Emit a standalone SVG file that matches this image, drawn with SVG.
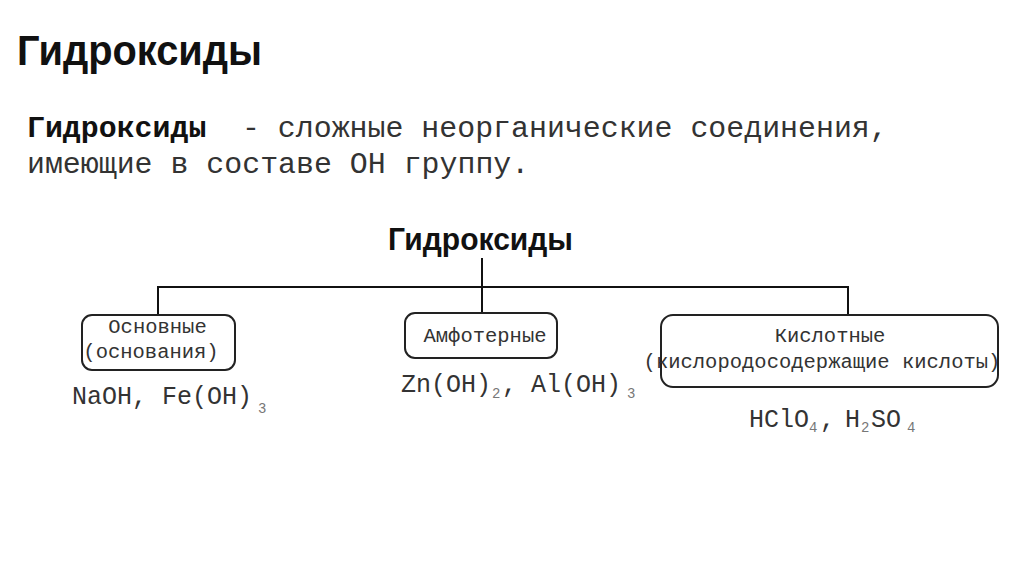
<svg xmlns="http://www.w3.org/2000/svg" width="1024" height="574" viewBox="0 0 1024 574">
<style>
.title{font-family:"Liberation Sans",Arial,sans-serif;font-weight:bold;fill:#111;}
.mono{font-family:"Liberation Mono","Courier New",monospace;fill:#333;}
.box{fill:#fff;stroke:#222;stroke-width:2;}
.lbl{font-family:"Liberation Mono","Courier New",monospace;font-size:20.5px;fill:#333;text-anchor:middle;}
.f{font-family:"Liberation Mono","Courier New",monospace;font-size:25px;fill:#333;}
.sub{font-family:"Liberation Mono","Courier New",monospace;font-size:14px;fill:#777;}
.conn{stroke:#111;stroke-width:2;fill:none;}
</style>
<rect width="1024" height="574" fill="#fff"/>
<text class="title" x="17" y="65" font-size="42" textLength="245" lengthAdjust="spacingAndGlyphs">Гидроксиды</text>
<text class="mono" font-size="29.9" y="137"><tspan x="27" font-weight="bold" fill="#111">Гидроксиды</tspan><tspan x="242">- сложные неорганические соединения,</tspan></text>
<text class="mono" font-size="29.9" x="27" y="173">имеющие в составе ОН группу.</text>
<g id="root"><text class="title" x="388" y="250" font-size="32" textLength="185" lengthAdjust="spacingAndGlyphs">Гидроксиды</text></g>
<g id="connectors">
<line class="conn" x1="482" y1="258" x2="482" y2="313"/>
<polyline class="conn" points="158,315 158,287 848,287 848,315"/>
</g>
<g id="n-basic">
<rect class="box" x="82" y="315" width="153" height="55" rx="10"/>
<text class="lbl" x="157.5" y="333">Основные</text>
<text class="lbl" x="151" y="358">(основания)</text>
<text class="f" x="72" y="404">NaOH, Fe(OH)</text>
<text class="sub" x="258" y="413">3</text>
</g>
<g id="n-amph">
<rect class="box" x="405" y="313" width="152" height="45" rx="10"/>
<text class="lbl" x="485" y="342">Амфотерные</text>
<text class="f" x="401" y="392">Zn(OH)</text>
<text class="sub" x="492" y="398">2</text>
<text class="f" x="502" y="392">,</text>
<text class="f" x="531" y="392">Al(OH)</text>
<text class="sub" x="627" y="398">3</text>
</g>
<g id="n-acid">
<rect class="box" x="661" y="315" width="337" height="72" rx="12"/>
<text class="lbl" x="830" y="342">Кислотные</text>
<text class="lbl" x="822" y="368">(кислородосодержащие кислоты)</text>
<text class="f" x="749" y="427">HClO</text>
<text class="sub" x="809" y="432">4</text>
<text class="f" x="820" y="427">,</text>
<text class="f" x="845" y="427">H</text>
<text class="sub" x="861" y="432">2</text>
<text class="f" x="871" y="427">SO</text>
<text class="sub" x="907" y="432">4</text>
</g>
</svg>
